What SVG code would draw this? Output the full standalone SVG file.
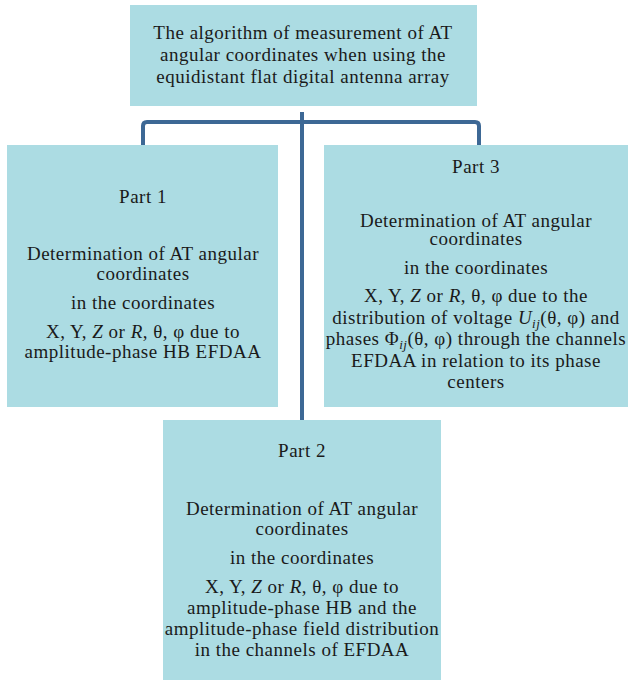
<svg xmlns="http://www.w3.org/2000/svg" width="630" height="681" viewBox="0 0 630 681">
<style>
.box{fill:#acdce3;}
.t{font-family:"Liberation Serif","Times New Roman",serif;font-size:19px;letter-spacing:0.5px;fill:#1a1a1a;text-anchor:middle;}
.i{font-style:italic;}
.conn{fill:none;stroke:#3d6895;stroke-width:4;}
</style>
<rect width="630" height="681" fill="#ffffff"/>
<g id="connectors">
<path class="conn" d="M143,149 V126 Q143,122 147,122 H475 Q479,122 479,126 V149"/>
<path class="conn" d="M302,112 V420"/>
</g>
<g id="top">
<rect class="box" x="130" y="5" width="347" height="101"/>
<text class="t" x="303" y="39">The algorithm of measurement of AT</text>
<text class="t" x="303" y="61">angular coordinates when using the</text>
<text class="t" x="303" y="83">equidistant flat digital antenna array</text>
</g>
<g id="part1">
<rect class="box" x="7" y="145" width="271" height="262"/>
<text class="t" x="143" y="203">Part 1</text>
<text class="t" x="143" y="260">Determination of AT angular</text>
<text class="t" x="143" y="280">coordinates</text>
<text class="t" x="143" y="309">in the coordinates</text>
<text class="t" x="143" y="338">X, Y, <tspan class="i">Z</tspan> or <tspan class="i">R</tspan>, θ, φ due to</text>
<text class="t" x="143" y="358">amplitude-phase HB EFDAA</text>
</g>
<g id="part3">
<rect class="box" x="324" y="145" width="304" height="262"/>
<text class="t" x="476" y="173">Part 3</text>
<text class="t" x="476" y="227">Determination of AT angular</text>
<text class="t" x="476" y="245">coordinates</text>
<text class="t" x="476" y="274">in the coordinates</text>
<text class="t" x="476" y="302">X, Y, <tspan class="i">Z</tspan> or <tspan class="i">R</tspan>, θ, φ due to the</text>
<text class="t" x="476" y="324">distribution of voltage <tspan class="i">U</tspan><tspan class="i" font-size="13" dy="4">ij</tspan><tspan dy="-4">(θ, φ) and</tspan></text>
<text class="t" x="476" y="345">phases Φ<tspan class="i" font-size="13" dy="4">ij</tspan><tspan dy="-4">(θ, φ) through the channels</tspan></text>
<text class="t" x="476" y="367">EFDAA in relation to its phase</text>
<text class="t" x="476" y="388">centers</text>
</g>
<g id="part2">
<rect class="box" x="163" y="420" width="278" height="260"/>
<text class="t" x="302" y="457">Part 2</text>
<text class="t" x="302" y="515">Determination of AT angular</text>
<text class="t" x="302" y="535">coordinates</text>
<text class="t" x="302" y="564">in the coordinates</text>
<text class="t" x="302" y="593">X, Y, <tspan class="i">Z</tspan> or <tspan class="i">R</tspan>, θ, φ due to</text>
<text class="t" x="302" y="614">amplitude-phase HB and the</text>
<text class="t" x="302" y="635">amplitude-phase field distribution</text>
<text class="t" x="302" y="656">in the channels of EFDAA</text>
</g>
</svg>
